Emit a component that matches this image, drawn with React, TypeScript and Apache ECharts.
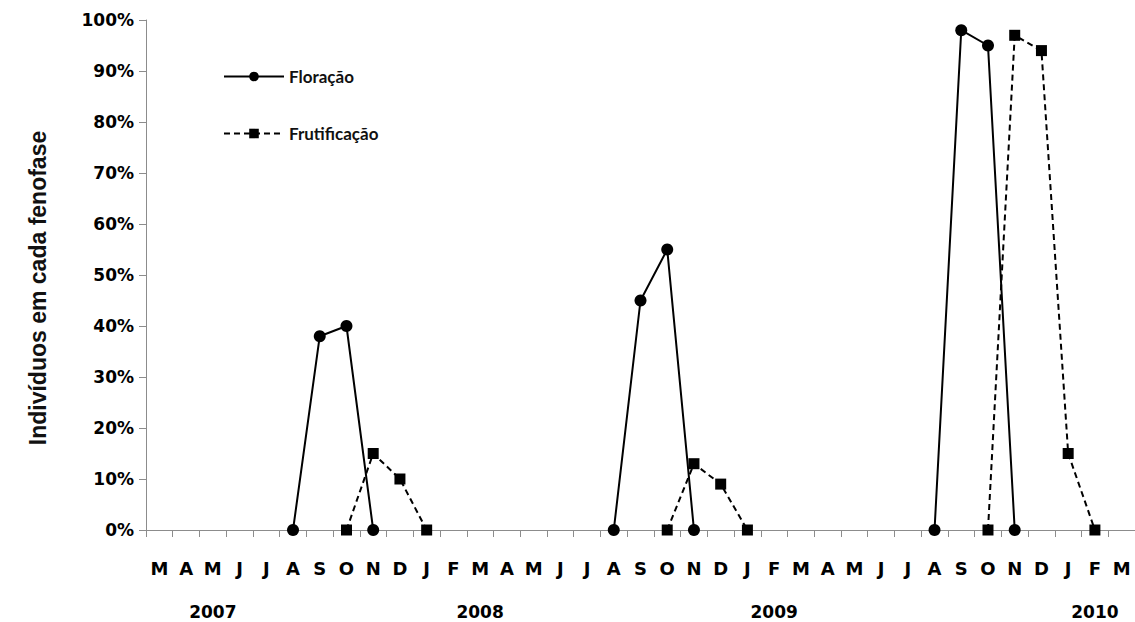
import React, { useEffect, useRef } from "react";
import * as echarts from "echarts";

const months = [
  "M", "A", "M", "J", "J", "A", "S", "O", "N", "D",
  "J", "F", "M", "A", "M", "J", "J", "A", "S", "O", "N", "D",
  "J", "F", "M", "A", "M", "J", "J", "A", "S", "O", "N", "D",
  "J", "F", "M",
];

const years = [
  "", "", "2007", "", "", "", "", "", "", "",
  "", "", "2008", "", "", "", "", "", "", "", "", "",
  "", "2009", "", "", "", "", "", "", "", "", "", "",
  "", "2010", "",
];

// percentage of individuals (null = not recorded)
const floracao = [
  null, null, null, null, null, 0, 38, 40, 0, null,
  null, null, null, null, null, null, null, 0, 45, 55, 0, null,
  null, null, null, null, null, null, null, 0, 98, 95, 0, null,
  null, null, null,
];

const frutificacao = [
  null, null, null, null, null, null, null, 0, 15, 10,
  0, null, null, null, null, null, null, null, null, 0, 13, 9,
  0, null, null, null, null, null, null, null, null, 0, 97, 94,
  15, 0, null,
];

const yTicks = [0, 10, 20, 30, 40, 50, 60, 70, 80, 90, 100];

const axisGray = "#8c8c8c";
const tickFont = "'DejaVu Sans', Verdana, sans-serif";

export default function App() {
  const ref = useRef<HTMLDivElement>(null);

  useEffect(() => {
    if (!ref.current) return;
    const chart = echarts.init(ref.current, undefined, { renderer: "svg" });
    chart.setOption({
      animation: false,
      backgroundColor: "#ffffff",
      grid: { left: 146, right: 0, top: 20, bottom: 92, containLabel: false },
      legend: {
        orient: "vertical",
        left: 218,
        top: 63,
        itemWidth: 60,
        itemHeight: 12,
        itemGap: 40,
        textStyle: {
          fontFamily: "Lato, 'Open Sans', sans-serif",
          fontWeight: "bold",
          fontSize: 17,
          color: "#111",
        },
        data: ["Floração", "Frutificação"],
      },
      graphic: [
        {
          type: "text",
          x: 38,
          y: 288,
          rotation: Math.PI / 2,
          style: {
            text: "Indivíduos em cada fenofase",
            fontFamily: "'Liberation Sans', Arial, sans-serif",
            fontWeight: "bold",
            fontSize: 23,
            fill: "#111",
            align: "center",
            verticalAlign: "middle",
          },
        },
      ],
      xAxis: [
        {
          type: "category",
          data: months,
          boundaryGap: true,
          axisLine: { lineStyle: { color: axisGray, width: 1 } },
          axisTick: { show: true, length: 7, inside: false, lineStyle: { color: axisGray } },
          axisLabel: {
            interval: 0,
            margin: 29,
            fontFamily: tickFont,
            fontWeight: "bold",
            fontSize: 18,
            color: "#000",
          },
          splitLine: { show: false },
        },
        {
          type: "category",
          data: years,
          position: "bottom",
          boundaryGap: true,
          axisLine: { show: false },
          axisTick: { show: false },
          axisLabel: {
            interval: 0,
            margin: 73,
            fontFamily: tickFont,
            fontWeight: "bold",
            fontSize: 17,
            color: "#000",
          },
          splitLine: { show: false },
        },
      ],
      yAxis: {
        type: "value",
        min: yTicks[0],
        max: yTicks[yTicks.length - 1],
        interval: 10,
        axisLine: { show: true, lineStyle: { color: axisGray, width: 1 } },
        axisTick: { show: true, length: 7, lineStyle: { color: axisGray } },
        axisLabel: {
          formatter: "{value}%",
          margin: 12,
          fontFamily: tickFont,
          fontWeight: "bold",
          fontSize: 17,
          color: "#000",
        },
        splitLine: { show: false },
      },
      series: [
        {
          name: "Floração",
          type: "line",
          xAxisIndex: 0,
          data: floracao,
          connectNulls: false,
          symbol: "circle",
          symbolSize: 12,
          itemStyle: { color: "#000" },
          lineStyle: { color: "#000", width: 2, type: "solid" },
          z: 3,
        },
        {
          name: "Frutificação",
          type: "line",
          xAxisIndex: 0,
          data: frutificacao,
          connectNulls: false,
          symbol: "rect",
          symbolSize: 11,
          itemStyle: { color: "#000" },
          lineStyle: { color: "#000", width: 2, type: [6, 4] },
          z: 2,
        },
      ],
    });
    return () => chart.dispose();
  }, []);

  return (
    <div
      ref={ref}
      style={{ position: "fixed", left: 0, top: 0, width: 1135, height: 622, background: "#fff" }}
    />
  );
}
